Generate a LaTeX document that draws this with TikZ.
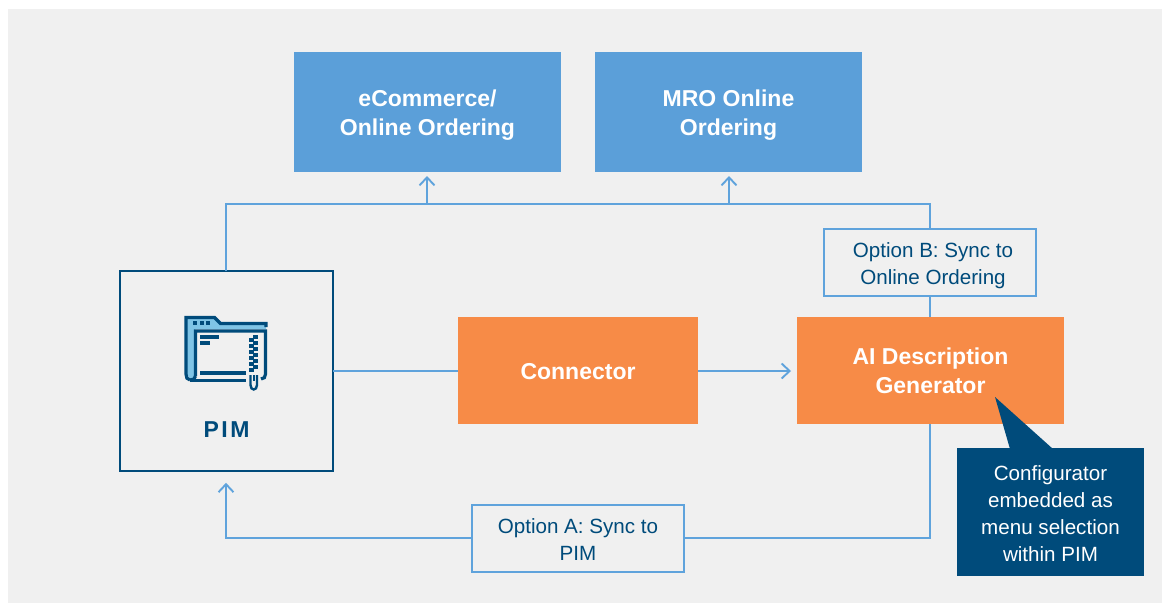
\documentclass[tikz,border=0pt]{standalone}
\usepackage{fontspec}
\setmainfont{Liberation Sans}
\usetikzlibrary{arrows.meta}
\definecolor{bgc}{HTML}{F0F0F0}
\definecolor{bluebox}{HTML}{5B9FD9}
\definecolor{orangebox}{HTML}{F78B47}
\definecolor{navy}{HTML}{004B7B}
\definecolor{linec}{HTML}{5FA3DC}
\definecolor{iconlight}{HTML}{7FC4E6}
\newcommand{\liftline}[1]{\rule{0pt}{#1pt}}
\tikzset{
  x=1pt,y=-1pt,
  box/.style={anchor=north west,inner sep=0pt,outer sep=0pt,align=center,text depth=0pt,font=\fontsize{23}{29}\selectfont\bfseries,text=white},
  bluefill/.style={box,fill=bluebox,minimum width=267pt,minimum height=120pt},
  orangefill/.style={box,fill=orangebox,minimum height=107pt},
  optbox/.style={anchor=north west,inner sep=0pt,outer sep=0pt,align=center,text depth=0pt,draw=linec,line width=1.9pt,fill=bgc,minimum width=212.6pt,minimum height=67.6pt,text=navy,font=\fontsize{20.6}{27}\selectfont},
  conn/.style={draw=linec,line width=1.7pt},
  arr/.style={conn,-{Straight Barb[length=8pt,width=15pt,line width=1.9pt]}},
  iconline/.style={draw=navy,line width=3.2pt},
  iconbar/.style={fill=navy,draw=none},
}
\begin{document}
\begin{tikzpicture}
\useasboundingbox (0,0) rectangle (1162,603);
\fill[white] (0,0) rectangle (1162,603);
\fill[bgc] (8,9) rectangle (1162,603);
% boxes
\node[bluefill] (ecom) at (294,52) {\liftline{17.5}eCommerce/\\Online Ordering};
\node[bluefill] (mro) at (595,52) {\liftline{17.5}MRO Online\\Ordering};
\node[anchor=north west,inner sep=0pt,outer sep=0pt,draw=navy,line width=1.8pt,minimum width=213pt,minimum height=200pt] (pim) at (119.7,270.8) {};
\node[orangefill,minimum width=240pt] (conn) at (458,317) {\liftline{17.5}Connector};
\node[orangefill,minimum width=267pt] (ai) at (797,317) {\liftline{17.5}AI Description\\Generator};
\coordinate (jl) at (226,204);
\coordinate (jr) at (930,204);
\coordinate (je) at (427,204);
\coordinate (jm) at (729,204);
\coordinate (ab) at (930,538);
\coordinate (pl) at (226,538);
\coordinate (pr) at (333,371);
\coordinate (cl) at (458,371);
\coordinate (cr) at (698,371);
\coordinate (al) at (797,371);
% connectors
\draw[conn] (pim.north -| jl) -- (jl) -- (jr) -- (930,228);
\draw[conn] (930,297) -- (ai.north -| jr);
\draw[arr,shorten >=4pt] (je) -- (ecom.south -| je);
\draw[arr,shorten >=4pt] (jm) -- (mro.south -| jm);
\draw[conn] (pr) -- (cl);
\draw[arr,shorten >=6pt] (cr) -- (al);
\draw[conn] (ai.south -| ab) -- (ab) -- (685,538);
\draw[arr,shorten >=12pt] (471,538) -- (pl) -- (pim.south -| pl);
% option boxes
\node[optbox] (optb) at (823.7,228.7) {\hspace*{6pt}\liftline{17}Option B: Sync to\\\hspace*{6pt}Online Ordering};
\node[optbox] (opta) at (471.7,504.7) {\liftline{17}Option A: Sync to\\PIM};
% callout
\fill[navy] (995,397) -- (1010,449) -- (1053,449) -- cycle;
\node[anchor=north west,inner sep=0pt,outer sep=0pt,fill=navy,text=white,align=center,text depth=0pt,minimum width=187pt,minimum height=128pt,font=\fontsize{20.6}{27}\selectfont] (call) at (957,448) {\liftline{17.5}Configurator\\embedded as\\menu selection\\within PIM};
% PIM label
\node[text=navy,font=\fontsize{23}{27}\selectfont\bfseries,inner sep=0pt] (pimlabel) at (226.5,430) {P\kern2.5pt I\kern2.5pt M};
% icon
\fill[iconlight] (186,317) -- (214,317) -- (220,323) -- (266,323) -- (266,329) -- (195,329) -- (195,378) -- (190,378) -- (186,374) -- cycle;
\draw[iconline,line join=miter] (190,380) .. controls (187,380) and (186,377) .. (186,374) -- (186,317.5) -- (214.5,317.5) -- (220.5,323.5) -- (266,323.5) -- (266,327);
\draw[iconline] (195.5,376) .. controls (195.5,379) and (193,380) .. (190,380);
\draw[iconline] (195.5,376) -- (195.5,331) -- (265.5,331) -- (265.5,374) .. controls (265.5,377) and (264,379) .. (261,379);
\fill[iconbar] (193,321) rectangle (197,325);
\fill[iconbar] (200,321) rectangle (204,325);
\fill[iconbar] (206,321) rectangle (210,325);
\fill[iconbar] (200,335) rectangle (219,339);
\fill[iconbar] (200,341) rectangle (210,345);
\fill[iconbar] (200,371) rectangle (246,375);
\fill[iconbar] (190,378.5) rectangle (246,382);
\foreach \yy in {335,341,347,353,359,365} {
  \fill[iconbar] (253,\yy) rectangle (258,\yy+4);
  \fill[iconbar] (249,\yy+3) rectangle (254,\yy+7);
}
\draw[navy,line width=2.4pt] (250.5,375) -- (250.5,385) .. controls (250.5,391) and (257,391) .. (257,385) -- (257,375);
\fill[iconbar] (253,375) rectangle (254.5,381);
\end{tikzpicture}
\end{document}
